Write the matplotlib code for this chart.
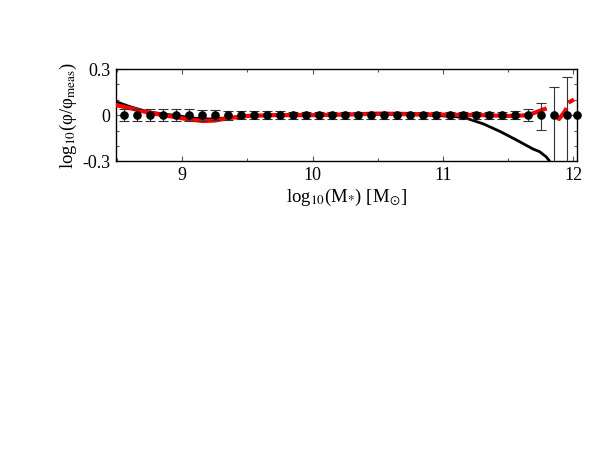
import numpy as np
import matplotlib
matplotlib.use("Agg")
import matplotlib.pyplot as plt
from matplotlib.ticker import MultipleLocator

plt.rcParams['font.family'] = ['Liberation Serif', 'DejaVu Serif']
plt.rcParams['mathtext.fontset'] = 'stix'

# measured points (residuals all zero) with asymmetric errors
pt_x = [8.55, 8.65, 8.75, 8.85, 8.95, 9.05, 9.15, 9.25, 9.35, 9.45, 9.55, 9.65, 9.75,
        9.85, 9.95, 10.05, 10.15, 10.25, 10.35, 10.45, 10.55, 10.65, 10.75, 10.85,
        10.95, 11.05, 11.15, 11.25, 11.35, 11.45, 11.55, 11.65, 11.75, 11.85, 11.95, 12.03]
pt_y = [0.0] * len(pt_x)
err_lo = [0.04, 0.04, 0.04, 0.04, 0.04, 0.037, 0.035, 0.032, 0.03, 0.028, 0.026, 0.025, 0.024,
          0.023, 0.022, 0.022, 0.022, 0.022, 0.022, 0.022, 0.022, 0.022, 0.022, 0.022,
          0.022, 0.022, 0.022, 0.022, 0.022, 0.022, 0.024, 0.04, 0.096, 0.5, 0.5, 0.0]
err_hi = [0.04, 0.04, 0.04, 0.04, 0.04, 0.037, 0.035, 0.032, 0.03, 0.028, 0.026, 0.025, 0.024,
          0.023, 0.022, 0.022, 0.022, 0.022, 0.022, 0.022, 0.022, 0.022, 0.022, 0.022,
          0.022, 0.022, 0.022, 0.022, 0.022, 0.022, 0.024, 0.04, 0.08, 0.18, 0.245, 0.0]

# black model curve
blk_x = [8.49, 8.6, 8.73, 8.85, 8.96, 9.1, 9.2, 9.34, 9.5, 9.7, 10.0, 10.5, 10.9, 11.0,
         11.1, 11.18, 11.31, 11.44, 11.56, 11.69, 11.74, 11.79, 11.81, 11.83]
blk_y = [0.088, 0.055, 0.023, 0.008, -0.003, -0.02, -0.025, -0.018, -0.005, 0.0, 0.0, 0.005,
         0.0, -0.005, -0.01, -0.02, -0.057, -0.107, -0.16, -0.22, -0.237, -0.27, -0.29, -0.32]

# red model curve (gaps as NaN)
red_x = [8.49, 8.6, 8.73, 8.85, 8.96, 9.05, 9.16, 9.25, 9.35, 9.5, 9.7, 10.0, 10.3, 10.5,
         10.7, 11.0, 11.3, 11.5, 11.59, 11.65, 11.69, 11.78, np.nan, 11.86, 11.89, 11.93,
         11.94, np.nan, 11.975, 11.99]
red_y = [0.066, 0.045, 0.019, 0.0, -0.014, -0.028, -0.038, -0.035, -0.02, -0.005, 0.0, 0.0,
         0.005, 0.01, 0.008, 0.003, 0.0, -0.005, -0.003, 0.0, 0.012, 0.04, np.nan, 0.0,
         -0.025, 0.019, 0.034, np.nan, 0.088, 0.095]

fig = plt.figure(figsize=(5.98, 4.62), dpi=100)
ax = fig.add_axes([0.1935, 0.6509, 0.9654 - 0.1935, 0.8506 - 0.6509])

ax.plot(blk_x, blk_y, color='black', lw=2.0, zorder=2)
ax.plot(red_x, red_y, color='#ff0000', lw=3.0, zorder=3)
ax.errorbar(pt_x, pt_y, yerr=[err_lo, err_hi], fmt='none',
            ecolor='#333333', elinewidth=0.8, capsize=3.4, capthick=0.8, zorder=4)
ax.plot(pt_x, pt_y, 'o', color='black', ms=5.2, zorder=5, clip_on=False)

ax.set_xlim(8.49, 12.03)
ax.set_ylim(-0.3, 0.3)
ax.xaxis.set_major_locator(MultipleLocator(1))
ax.xaxis.set_minor_locator(MultipleLocator(0.5))
ax.yaxis.set_minor_locator(MultipleLocator(0.1))
ax.set_yticks([-0.3, 0, 0.3])
ax.set_yticklabels(['-0.3', '0', '0.3'])
ax.tick_params(which='both', direction='in', top=True, right=True, color='#555555',
               labelsize=13, width=0.8)
ax.tick_params(which='major', length=3.7, pad=4)
ax.tick_params(which='minor', length=2.5)
for s in ax.spines.values():
    s.set_linewidth(1.0)

ax.set_xlabel(r'log$_{10}$(M$_{*}$) [M$_{\odot}$]', fontsize=13.5, labelpad=2)
ax.set_ylabel(r'log$_{10}$(φ/φ$_{\rm meas}$)', fontsize=13.5, labelpad=2)

fig.savefig('out.png', dpi=100)
